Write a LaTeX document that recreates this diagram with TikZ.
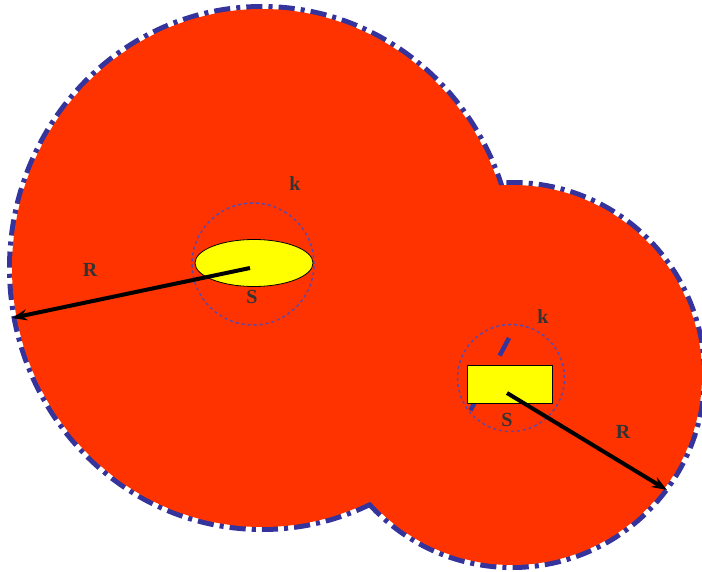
\documentclass[tikz,border=0pt]{standalone}
\usepackage{fontspec}
\setmainfont{Liberation Serif}
\usetikzlibrary{arrows.meta, shapes.geometric}
\definecolor{zonec}{HTML}{FF3300}
\definecolor{rimc}{HTML}{34349C}
\definecolor{kc}{HTML}{5C48A8}
\definecolor{objc}{HTML}{FFFF00}

\begin{document}
\begin{tikzpicture}[
    x=1pt, y=-1pt,
    >={Stealth[length=15pt, width=11pt]},
    rim/.style={rimc, line width=10pt, dash pattern=on 16pt off 6pt on 4pt off 6pt},
    kring/.style={circle, draw=kc, dashed, line width=1.5pt, inner sep=0pt},
    obj/.style={draw=black, fill=objc, line width=0.8pt, inner sep=0pt},
    lbl/.style={font=\fontsize{20}{24}\selectfont\bfseries, text=black!80},
    rarrow/.style={->, line width=4pt}]
  \useasboundingbox (0,0) rectangle (702,572);

  % centres of the two zones
  \coordinate (c1) at (262,268);
  \coordinate (c2) at (512,375);

  % outer rim first, the red fill then hides its inner half
  \draw[rim] (c1) ellipse [x radius=250, y radius=259];
  \draw[rim] (c2) circle [radius=190pt];
  \fill[zonec] (c1) ellipse [x radius=250, y radius=259];
  \fill[zonec] (c2) circle [radius=190pt];

  % k rings
  \node[kring, minimum size=122pt] (k1) at (253,264) {};
  \node[kring, minimum size=107pt] (k2) at (511,378) {};

  % blue stroke behind the box
  \coordinate (b1) at (509,338);
  \coordinate (b2) at (467,417);
  \draw[rimc, line width=4.5pt, dash pattern=on 20pt off 48pt on 14pt off 10pt] (b1) -- (b2);

  % the objects S
  \node[obj, ellipse, minimum width=118pt, minimum height=47pt] (s1) at (254,263) {};
  \node[obj, rectangle, minimum width=85pt, minimum height=38pt] (s2) at (509.5,384) {};

  % radii R
  \coordinate (a1) at (250,268);
  \coordinate (e1) at (12,318);
  \coordinate (a2) at (507,393);
  \coordinate (e2) at (667,490);
  \draw[rarrow] (a1) -- (e1);
  \draw[rarrow] (a2) -- (e2);

  % labels
  \node[lbl] (kl1) at (295,184) {k};
  \node[lbl] (sl1) at (252,297) {S};
  \node[lbl] (rl1) at (90,270) {R};
  \node[lbl] (kl2) at (543,317) {k};
  \node[lbl] (sl2) at (507,420) {S};
  \node[lbl] (rl2) at (623,432) {R};
\end{tikzpicture}
\end{document}
